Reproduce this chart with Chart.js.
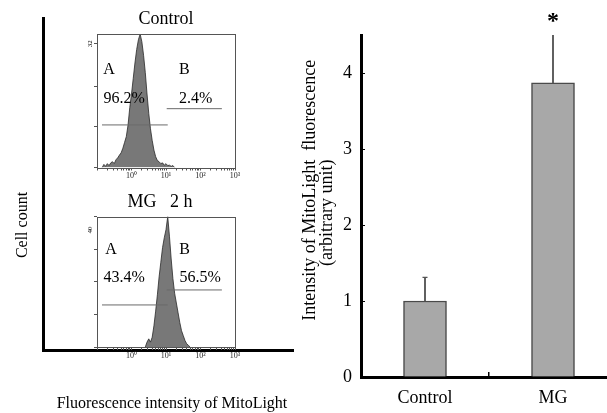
<!DOCTYPE html>
<html><head><meta charset="utf-8">
<script src="https://cdn.jsdelivr.net/npm/chart.js@4"></script>
<style>
html,body{margin:0;padding:0;background:#fff;width:607px;height:413px;overflow:hidden;position:relative}
canvas{position:absolute}
</style></head><body>
<canvas id="frame" width="300" height="413" style="left:0;top:0"></canvas>
<canvas id="h1" width="214" height="190" style="left:60px;top:0"></canvas>
<canvas id="h2" width="165" height="189" style="left:85px;top:181px"></canvas>
<canvas id="bars" width="327" height="413" style="left:290px;top:0"></canvas>
<script>
// ---------- data ----------
const decadeValues = [0, 1, 2, 3];
const decadeLabels = ['10\u2070', '10\u00B9', '10\u00B2', '10\u00B3'];

const controlLogX = [-0.85,-0.8,-0.75,-0.7,-0.65,-0.6,-0.55,-0.5,-0.45,-0.4,-0.35,-0.3,-0.25,-0.2,-0.15,-0.1,-0.05,0,0.05,0.1,0.15,0.2,0.25,0.3,0.35,0.4,0.45,0.5,0.55,0.6,0.65,0.7,0.75,0.8,0.85,0.9,0.95,1.0,1.05,1.1,1.15,1.2,1.25];
const controlCounts = [0,0.8,0.3,1,0.5,1.2,1.5,1,2,2.5,3.2,3.8,5,6.5,8,11,15.5,19,23,27,30.5,33,34.5,32.5,29,24.5,19,14,10,7,4.5,2.8,1.8,1.5,1,1.2,0.6,1,0.5,0.6,0.3,0.5,0];

const mgLogX = [0.4,0.45,0.5,0.55,0.6,0.65,0.7,0.75,0.8,0.85,0.9,0.95,1.0,1.05,1.1,1.15,1.2,1.25,1.3,1.35,1.4,1.45,1.5,1.55,1.6,1.65,1.7];
const mgCounts = [0,1.5,2.5,1.5,3,6.5,11,16,21.5,26,30.5,33.5,36,40,34,27,21,16.5,13.5,10.5,7.5,5,3.5,2,1,0.5,0];

const gateAX = [-0.855, 1.05];
const gateBX = [1.02, 2.62];
const controlGateLevels = [11.0, 15.2];
const mgGateLevels = [12.9, 17.5];
const regionNames = ['A', 'B'];
const controlPercents = ['96.2%', '2.4%'];
const mgPercents = ['43.4%', '56.5%'];
const controlYTicks = [0, 10.5, 21, 32];
const mgYTicks = [0, 10, 20, 30, 40];

const barCategories = ['Control', 'MG'];
const barMeans = [1.0, 3.87];
const barErrors = [0.31, 0.65];
const barYTicks = [0, 1, 2, 3, 4];

// ---------- helpers ----------
const SERIF = '"Liberation Serif", "Times New Roman", serif';
Chart.defaults.font.family = SERIF;
Chart.defaults.color = '#000';

function marks(items, frame) {
  return {
    id: 'marks',
    afterDatasetsDraw(chart) {
      const ctx = chart.ctx, ca = chart.chartArea;
      if (frame) {
        ctx.save();
        ctx.strokeStyle = frame.color; ctx.lineWidth = frame.width;
        const l = Math.round(ca.left) + 0.5, t = Math.round(ca.top) + 0.5;
        const r = Math.round(ca.right) + 0.5, b = Math.round(ca.bottom) + 0.5;
        ctx.strokeRect(l, t, r - l, b - t);
        ctx.restore();
      }
      items.forEach(it => {
        const px = chart.scales.x.getPixelForValue(it.x);
        const py = chart.scales.y.getPixelForValue(it.y);
        ctx.save();
        ctx.translate(px, py);
        if (it.rotation) ctx.rotate(it.rotation * Math.PI / 180);
        ctx.font = it.font;
        ctx.fillStyle = it.color || '#000';
        ctx.textAlign = 'center';
        ctx.textBaseline = 'middle';
        ctx.fillText(it.text, 0, 0);
        ctx.restore();
      });
    }
  };
}

const minorTicks = [];
for (let d = -1; d <= 2; d++) for (let k = 1; k <= 9; k++) minorTicks.push(d + Math.log10(k));
minorTicks.push(3);

function histConfig(o) {
  return {
    type: 'scatter',
    data: { datasets: [
      { data: [{x: gateAX[0], y: o.gates[0]}, {x: gateAX[1], y: o.gates[0]}], showLine: true, borderColor: '#6a6a6a', borderWidth: 1, pointRadius: 0, fill: false, order: 0 },
      { data: [{x: gateBX[0], y: o.gates[1]}, {x: gateBX[1], y: o.gates[1]}], showLine: true, borderColor: '#6a6a6a', borderWidth: 1, pointRadius: 0, fill: false, order: 0 },
      { data: o.logX.map((x, i) => ({x: x, y: o.counts[i]})), showLine: true, fill: 'origin', backgroundColor: '#787878', borderColor: '#2a2a2a', borderWidth: 0.8, pointRadius: 0, tension: 0, order: 1 }
    ]},
    options: {
      responsive: false, animation: false,
      layout: { autoPadding: false, padding: { left: 0, right: o.rightPad, top: 0, bottom: 0 } },
      plugins: {
        legend: { display: false }, tooltip: { enabled: false },
        title: { display: true, fullSize: o.titleFull, text: o.title, font: { family: SERIF, size: 18, weight: 'normal' }, color: '#000', padding: { top: o.titleTop, bottom: 4 } }
      },
      scales: {
        x: { type: 'linear', min: -1, max: 3,
          afterBuildTicks: s => { s.ticks = minorTicks.map(v => ({ value: v })); },
          ticks: { autoSkip: false, maxRotation: 0, minRotation: 0, padding: 1, color: '#222', font: { family: SERIF, size: 8 },
            callback: v => { const i = decadeValues.indexOf(v); return i >= 0 ? decadeLabels[i] : ''; } },
          grid: { display: true, drawOnChartArea: false, drawTicks: true, tickLength: 3, color: '#555' },
          border: { display: false },
          afterFit: s => { s.height = o.xHeight; } },
        y: { type: 'linear', min: 0, max: o.yMax,
          afterBuildTicks: s => { s.ticks = o.yTicks.map(v => ({ value: v })); },
          ticks: { display: false },
          grid: { display: true, drawOnChartArea: false, drawTicks: true, tickLength: 3, color: '#555' },
          border: { display: false },
          afterFit: s => { s.width = o.yWidth; } }
      }
    },
    plugins: [marks(o.texts, { color: '#555', width: 1 })]
  };
}

// ---------- left frame (L axes) ----------
new Chart(document.getElementById('frame'), {
  type: 'scatter',
  data: { datasets: [] },
  options: {
    responsive: false, animation: false,
    layout: { autoPadding: false, padding: { top: 18, right: 7, left: 0, bottom: 0 } },
    plugins: { legend: { display: false }, tooltip: { enabled: false } },
    scales: {
      x: { type: 'linear', min: 0, max: 1, ticks: { display: false }, grid: { display: false },
        border: { display: true, width: 3, color: '#000' },
        title: { display: true, text: '  Fluorescence intensity of MitoLight', font: { family: SERIF, size: 16 }, color: '#000', padding: { top: 0, bottom: 0 } },
        afterFit: s => { s.height = 63; } },
      y: { type: 'linear', min: 0, max: 1, ticks: { display: false }, grid: { display: false },
        border: { display: true, width: 3, color: '#000' },
        afterFit: s => { s.width = 43; } }
    }
  },
  plugins: [marks([{ x: -0.08, y: 0.3765, text: 'Cell count', rotation: -90, font: '16px ' + SERIF }])]
});

// ---------- histograms ----------
const labelFont = '16px ' + SERIF;
const tinyFont = '7px ' + SERIF;
new Chart(document.getElementById('h1'), histConfig({
  title: 'Control', titleTop: 8, titleFull: false, rightPad: 39, xHeight: 22.5, yWidth: 37,
  logX: controlLogX, counts: controlCounts, gates: controlGateLevels,
  yMax: 34.6, yTicks: controlYTicks,
  texts: [
    { x: -0.652, y: 25.3, text: regionNames[0], font: labelFont },
    { x: 1.53, y: 25.3, text: regionNames[1], font: labelFont },
    { x: -0.21, y: 17.8, text: controlPercents[0], font: labelFont },
    { x: 1.86, y: 17.8, text: controlPercents[1], font: labelFont },
    { x: -1.2, y: 32, text: '32', rotation: -90, font: tinyFont }
  ]
}));
new Chart(document.getElementById('h2'), histConfig({
  title: 'MG   2 h', titleTop: 10, titleFull: true, rightPad: 15, xHeight: 23, yWidth: 12,
  logX: mgLogX, counts: mgCounts, gates: mgGateLevels,
  yMax: 40, yTicks: mgYTicks,
  texts: [
    { x: -0.594, y: 29.8, text: regionNames[0], font: labelFont },
    { x: 1.54, y: 29.8, text: regionNames[1], font: labelFont },
    { x: -0.21, y: 21.2, text: mgPercents[0], font: labelFont },
    { x: 1.99, y: 21.2, text: mgPercents[1], font: labelFont },
    { x: -1.2, y: 35.9, text: '40', rotation: -90, font: tinyFont }
  ]
}));

// ---------- bar chart ----------
new Chart(document.getElementById('bars'), {
  type: 'bar',
  data: {
    labels: barCategories,
    datasets: [
      { data: barMeans, backgroundColor: '#a8a8a8', borderColor: '#4a4a4a', borderWidth: 1.5, barThickness: 43, grouped: false, order: 2 },
      { data: barMeans.map((m, i) => [m, m + barErrors[i]]), backgroundColor: '#555', borderWidth: 0, barThickness: 1.2, grouped: false, order: 1 },
      { type: 'line', data: barMeans.map((m, i) => m + barErrors[i]), showLine: false, pointStyle: 'line', pointRadius: 2.5, borderColor: '#555', borderWidth: 1.3, order: 0 }
    ]
  },
  options: {
    responsive: false, animation: false,
    layout: { autoPadding: false, padding: { left: 0, right: 0, top: 35, bottom: 0 } },
    plugins: { legend: { display: false }, tooltip: { enabled: false } },
    scales: {
      x: { type: 'category', offset: true,
        grid: { display: true, offset: true, drawOnChartArea: false, drawTicks: true, tickLength: -5, color: '#000', lineWidth: 1.5 },
        border: { display: true, width: 3, color: '#000' },
        ticks: { font: { family: SERIF, size: 18 }, color: '#000', padding: 15 },
        afterFit: s => { s.height = 36; } },
      y: { type: 'linear', min: 0, max: 4.5,
        afterBuildTicks: s => { s.ticks = barYTicks.map(v => ({ value: v })); },
        ticks: { font: { family: SERIF, size: 18 }, color: '#000', padding: 13 },
        grid: { display: true, drawOnChartArea: false, drawTicks: true, tickLength: -4, color: '#000', lineWidth: 1 },
        border: { display: true, width: 3, color: '#000' },
        title: { display: true, text: ['       Intensity of MitoLight  fluorescence', '(arbitrary unit)   '], font: { family: SERIF, size: 18, lineHeight: 0.95 }, color: '#000', padding: { top: 11.5, bottom: 0 } },
        afterFit: s => { s.width = 71; } }
    }
  },
  plugins: [marks([{ x: 1, y: 4.67, text: '*', font: 'bold 24px ' + SERIF }])]
});
</script>
</body></html>
